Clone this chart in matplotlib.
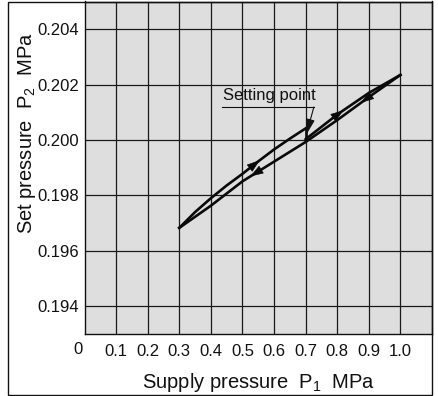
import matplotlib
matplotlib.use("Agg")
import matplotlib.pyplot as plt
import numpy as np
from matplotlib.patches import Rectangle

plt.rcParams['font.family'] = ['Liberation Sans', 'DejaVu Sans']

# Rising branch from 0.3 MPa up to the setting point
p1_rise = [0.30, 0.35, 0.40, 0.45, 0.50, 0.55, 0.60, 0.65, 0.70]
p2_rise = [0.19683, 0.19740, 0.19790, 0.19836, 0.19878, 0.19923, 0.19966, 0.20005, 0.20042]
# Drop to the setting point
p1_set = [0.70, 0.70]
p2_set = [0.20042, 0.20003]
# Rising branch from the setting point to 1.0 MPa
p1_up = [0.70, 0.80, 0.90, 1.00]
p2_up = [0.20003, 0.20092, 0.20170, 0.20235]
# Falling branch from 1.0 MPa back to 0.3 MPa
p1_down = [1.00, 0.90, 0.80, 0.70, 0.60, 0.50, 0.40, 0.30]
p2_down = [0.20235, 0.20155, 0.20072, 0.19993, 0.19922, 0.19851, 0.19763, 0.19683]

# arrow tip positions (P1) on each branch
arrow_rise_x = 0.555
arrow_down_left_x = 0.525
arrow_up_x = 0.82
arrow_down_right_x = 0.875

x_ticks = [0.1, 0.2, 0.3, 0.4, 0.5, 0.6, 0.7, 0.8, 0.9, 1.0]
x_tick_labels = ['0.1', '0.2', '0.3', '0.4', '0.5', '0.6', '0.7', '0.8', '0.9', '1.0']
y_ticks = [0.194, 0.196, 0.198, 0.200, 0.202, 0.204]
y_tick_labels = ['0.194', '0.196', '0.198', '0.200', '0.202', '0.204']

W, H = 438, 396
fig = plt.figure(figsize=(W / 100, H / 100), dpi=100)
ax = fig.add_axes([84.5 / W, 1 - 334 / H, (432 - 84.5) / W, (334 - 1.5) / H])
ax.set_facecolor('#dedede')
ax.set_xlim(0, 1.1)
ax.set_ylim(0.193, 0.205)

ax.set_xticks(x_ticks)
ax.set_xticklabels(x_tick_labels)
ax.set_yticks(y_ticks)
ax.set_yticklabels(y_tick_labels)
ax.tick_params(axis='both', length=0, labelsize=12, colors='#111111')
ax.tick_params(axis='x', pad=7)
ax.tick_params(axis='y', pad=4)
ax.grid(True, color='#1a1a1a', linewidth=0.9)
ax.set_axisbelow(True)
for s in ax.spines.values():
    s.set_color('#111111')
    s.set_linewidth(1.0)

lw = 1.9
col = '#0a0a0a'
ax.plot(p1_rise, p2_rise, color=col, lw=lw, solid_joinstyle='miter', zorder=3)
ax.plot(p1_set, p2_set, color=col, lw=lw, zorder=3)
ax.plot(p1_up, p2_up, color=col, lw=lw, zorder=3)
ax.plot(p1_down, p2_down, color=col, lw=lw, zorder=3)


def arrow_on(xs, ys, xtip, forward=True):
    order = np.argsort(xs)
    xa = np.array(xs)[order]
    ya = np.array(ys)[order]
    d = 0.03
    xtail = xtip - d if forward else xtip + d
    ytip = np.interp(xtip, xa, ya)
    ytail = np.interp(xtail, xa, ya)
    ax.annotate('', xy=(xtip, ytip), xytext=(xtail, ytail),
                arrowprops=dict(arrowstyle='-|>,head_length=0.7,head_width=0.24',
                                color=col, lw=0.5, shrinkA=0, shrinkB=0,
                                mutation_scale=12),
                zorder=4)


arrow_on(p1_rise, p2_rise, arrow_rise_x, True)
arrow_on(p1_down, p2_down, arrow_down_left_x, False)
arrow_on(p1_up, p2_up, arrow_up_x, True)
arrow_on(p1_down, p2_down, arrow_down_right_x, False)

# Setting point annotation
ax.text(0.584, 0.20162, 'Setting point', fontsize=12, ha='center', va='center',
        color='#111111', zorder=5)
ax.plot([0.435, 0.726], [0.20119, 0.20119], color='#111111', lw=0.8, zorder=5)
ax.annotate('', xy=(0.702, 0.20019), xytext=(0.726, 0.20119),
            arrowprops=dict(arrowstyle='-|>,head_length=0.8,head_width=0.22',
                            color='#111111', lw=0.8, shrinkA=0, shrinkB=0,
                            mutation_scale=12),
            zorder=5)

# origin label
ax.text(-0.02, -0.046, '0', transform=ax.get_xaxis_transform(), fontsize=12,
        ha='center', va='center', color='#111111')

ax.set_xlabel('Supply pressure  P$_\\mathregular{1}$  MPa', fontsize=14.5,
              color='#111111')
ax.xaxis.set_label_coords(0.5, -0.11)
ax.set_ylabel('Set pressure  P$_\\mathregular{2}$  MPa', fontsize=14.5,
              color='#111111')
ax.yaxis.set_label_coords(-0.135, 0.603)

# outer frame
fig.patches.append(Rectangle((8 / W, 1 / H), (432 - 8) / W, (395 - 1.5) / H,
                             transform=fig.transFigure, fill=False,
                             edgecolor='#111111', lw=1.0, zorder=10))

fig.savefig('out.png', dpi=100)
